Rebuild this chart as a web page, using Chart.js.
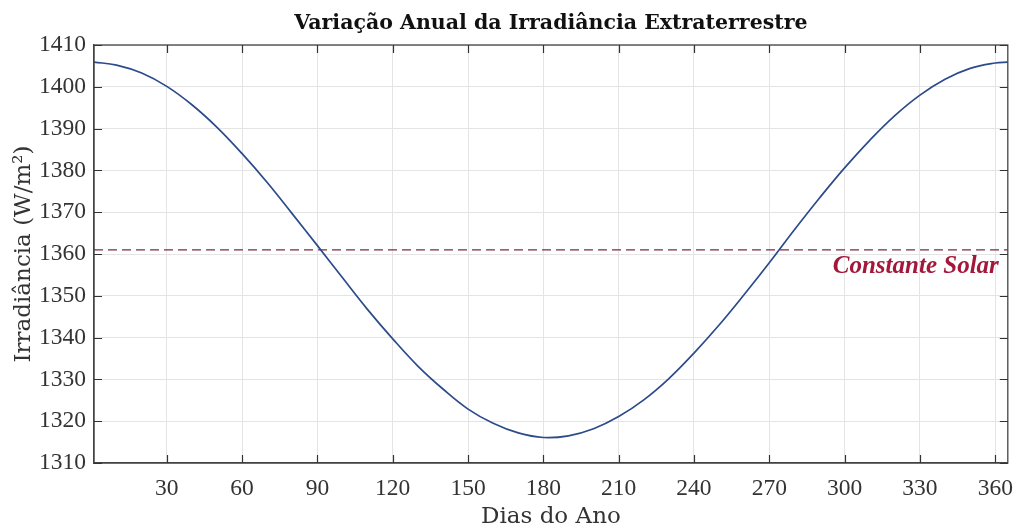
<!DOCTYPE html>
<html>
<head>
<meta charset="utf-8">
<title>Variação Anual da Irradiância Extraterrestre</title>
<script src="https://cdn.jsdelivr.net/npm/chart.js@4.4.1/dist/chart.umd.min.js"></script>
<style>
  html, body { margin: 0; padding: 0; background: #ffffff; }
  #wrap { width: 1025px; height: 532px; }
</style>
</head>
<body>
<div id="wrap"><canvas id="chart" width="1025" height="532"></canvas></div>
<script>
// Day of year and extraterrestrial irradiance (W/m²)
const days = [1, 10, 20, 30, 40, 50, 60, 70, 80, 90, 100, 110, 120, 130, 140,
              150, 160, 170, 180, 190, 200, 210, 220, 230, 240, 250, 260, 270,
              280, 290, 300, 310, 320, 330, 340, 350, 360, 365];
const irradiance = [1405.9, 1405.2, 1403.3, 1400.1, 1395.7, 1390.3, 1384.0,
                    1377.1, 1369.6, 1362.0, 1354.3, 1346.7, 1339.7, 1333.2,
                    1327.7, 1322.9, 1319.5, 1317.2, 1316.1, 1316.5, 1318.2,
                    1321.1, 1325.1, 1330.2, 1336.3, 1343.0, 1350.3, 1357.9,
                    1365.8, 1373.4, 1380.6, 1387.2, 1393.1, 1398.0, 1401.8,
                    1404.4, 1405.7, 1405.9];
const solarConstant = 1361;
const solarLabel = 'Constante Solar';
const xTicks = [30, 60, 90, 120, 150, 180, 210, 240, 270, 300, 330, 360];
const yTicks = [1310, 1320, 1330, 1340, 1350, 1360, 1370, 1380, 1390, 1400, 1410];
const xRange = [1, 365];
const yRange = [1310, 1410];
const chartTitle = 'Variação Anual da Irradiância Extraterrestre';
const xLabel = 'Dias do Ano';
const yLabel = 'Irradiância (W/m²)';

const TICK_FONT = { family: "'Liberation Serif', serif", size: 23.5 };
const LABEL_FONT = { family: "'DejaVu Serif', serif", size: 23 };
const BOX_COLOR = '#444444';

// Frame, inward tick marks, title and the constant's label
const decorations = {
  id: 'decorations',
  afterDatasetsDraw(chart) {
    const { ctx, chartArea: a, scales: { x, y } } = chart;
    ctx.save();
    ctx.strokeStyle = BOX_COLOR;
    ctx.lineWidth = 1.3;
    ctx.strokeRect(a.left, a.top, a.right - a.left, a.bottom - a.top);

    const len = 8;
    ctx.lineWidth = 1.2;
    ctx.strokeStyle = '#333333';
    ctx.beginPath();
    xTicks.forEach(v => {
      const px = Math.round(x.getPixelForValue(v)) + 0.5;
      ctx.moveTo(px, a.bottom); ctx.lineTo(px, a.bottom - len);
      ctx.moveTo(px, a.top); ctx.lineTo(px, a.top + len);
    });
    yTicks.forEach(v => {
      const py = Math.round(y.getPixelForValue(v)) + 0.5;
      ctx.moveTo(a.left, py); ctx.lineTo(a.left + len, py);
      ctx.moveTo(a.right, py); ctx.lineTo(a.right - len, py);
    });
    ctx.stroke();

    // label under the dashed line
    ctx.fillStyle = '#a3173a';
    ctx.font = "italic bold 25px 'Liberation Serif', serif";
    ctx.textAlign = 'right';
    ctx.textBaseline = 'alphabetic';
    ctx.fillText(solarLabel, a.right - 9, y.getPixelForValue(solarConstant) + 23);

    // title centred over the plot area
    ctx.fillStyle = '#111111';
    ctx.font = "bold 20.5px 'DejaVu Serif', serif";
    ctx.textAlign = 'center';
    ctx.fillText(chartTitle, (a.left + a.right) / 2, 29);
    ctx.restore();
  }
};

new Chart(document.getElementById('chart'), {
  type: 'line',
  data: {
    datasets: [
      {
        label: 'Irradiância',
        data: days.map((d, i) => ({ x: d, y: irradiance[i] })),
        borderColor: '#2c4b8a',
        borderWidth: 1.7,
        pointRadius: 0,
        tension: 0.4,
        fill: false
      },
      {
        label: solarLabel,
        data: xRange.map(d => ({ x: d, y: solarConstant })),
        borderColor: '#7e2a44',
        borderWidth: 1.2,
        borderDash: [9, 5],
        pointRadius: 0,
        fill: false
      }
    ]
  },
  options: {
    responsive: false,
    animation: false,
    devicePixelRatio: 1,
    layout: { padding: { top: 45, right: 9, left: 0, bottom: 0 } },
    plugins: {
      legend: { display: false },
      title: { display: false },
      tooltip: { enabled: false }
    },
    scales: {
      x: {
        type: 'linear',
        min: xRange[0],
        max: xRange[1],
        afterBuildTicks: s => { s.ticks = xTicks.map(v => ({ value: v })); },
        afterFit: s => { s.height = 69; },
        grid: { color: '#e4e4e4', lineWidth: 1, drawTicks: false },
        border: { display: true, color: BOX_COLOR, width: 1.3 },
        ticks: { font: TICK_FONT, color: '#333333', padding: 12, maxRotation: 0, autoSkip: false,
                 callback: v => String(v) },
        title: { display: true, text: xLabel, font: LABEL_FONT, color: '#333333', padding: { top: 0, bottom: 1 } }
      },
      y: {
        type: 'linear',
        min: yRange[0],
        max: yRange[1],
        afterBuildTicks: s => { s.ticks = yTicks.map(v => ({ value: v })); },
        afterFit: s => { s.width = 94; },
        grid: { color: '#e4e4e4', lineWidth: 1, drawTicks: false },
        border: { display: true, color: BOX_COLOR, width: 1.3 },
        ticks: { font: TICK_FONT, color: '#333333', padding: 8, autoSkip: false,
                 callback: v => String(v) },
        title: { display: true, text: yLabel, font: LABEL_FONT, color: '#333333', padding: { top: 10, bottom: 0 } }
      }
    }
  },
  plugins: [decorations]
});
</script>
</body>
</html>
